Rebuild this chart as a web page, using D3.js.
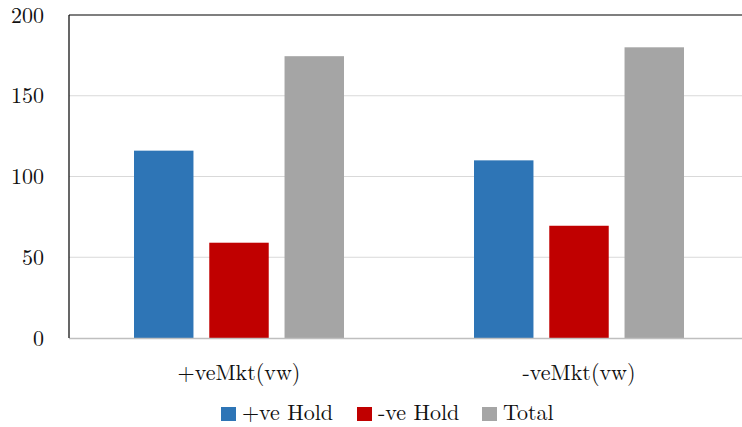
<!DOCTYPE html>
<html>
<head>
<meta charset="utf-8">
<script src="https://cdn.jsdelivr.net/npm/d3@7"></script>
<style>
  body { margin: 0; background: #fff; }
</style>
</head>
<body>
<svg id="chart" width="742" height="427"></svg>
<script>
/////// Data ///////
var groups = ["+veMkt(vw)", "-veMkt(vw)"];
var seriesNames = ["+ve Hold", "-ve Hold", "Total"];
var posHold = [116, 110];
var negHold = [59, 69.5];
var total = [174.5, 180];
var yTicks = [0, 50, 100, 150, 200];
var colors = ["#2E75B6", "#C00000", "#A5A5A5"];

var FONT = "'Latin Modern Roman', 'CMU Serif', 'DejaVu Serif', 'Liberation Serif', serif";

/////// Layout ///////
var svg = d3.select("#chart"),
margin = {top: 15, right: -7, bottom: 89, left: 69},
width = +svg.attr("width") - margin.left - margin.right,
height = +svg.attr("height") - margin.top - margin.bottom;

var g = svg.append("g")
.attr("transform", "translate(" + margin.left + "," + margin.top + ")");

var x0 = d3.scaleBand().domain(groups).range([0, width]).paddingInner(0).paddingOuter(0);
var x1 = d3.scaleBand().domain(seriesNames).range([65, x0.bandwidth() - 65]).paddingInner(0.21).paddingOuter(0);
var y = d3.scaleLinear().domain([0, 200]).range([height, 0]);

// gridlines
g.selectAll(".grid").data(yTicks.slice(1, -1)).enter().append("line")
.attr("x1", 0).attr("x2", width)
.attr("y1", function(d) { return y(d); }).attr("y2", function(d) { return y(d); })
.attr("stroke", "#d9d9d9").attr("stroke-width", 1);

// bars
var rows = groups.map(function(gname, i) {
    return {group: gname, values: [posHold[i], negHold[i], total[i]]};
});

var grp = g.selectAll(".grp").data(rows).enter().append("g")
.attr("transform", function(d) { return "translate(" + x0(d.group) + ",0)"; });

grp.selectAll("rect").data(function(d) {
    return d.values.map(function(v, j) { return {name: seriesNames[j], value: v, color: colors[j]}; });
}).enter().append("rect")
.attr("x", function(d) { return x1(d.name); })
.attr("width", x1.bandwidth())
.attr("y", function(d) { return y(d.value); })
.attr("height", function(d) { return height - y(d.value); })
.attr("fill", function(d) { return d.color; });

// axes lines
g.append("line").attr("x1", 0).attr("x2", width).attr("y1", height + 0.5).attr("y2", height + 0.5)
.attr("stroke", "#bfbfbf").attr("stroke-width", 1.5);
g.append("line").attr("x1", 0).attr("x2", width).attr("y1", 0).attr("y2", 0)
.attr("stroke", "#000").attr("stroke-width", 1.2);
g.append("line").attr("x1", 0).attr("x2", 0).attr("y1", 0).attr("y2", height)
.attr("stroke", "#000").attr("stroke-width", 1.2);

// y tick labels
g.selectAll(".ylab").data(yTicks).enter().append("text")
.attr("x", -25).attr("y", function(d) { return y(d); })
.attr("dy", "0.35em")
.attr("text-anchor", "end")
.attr("font-family", FONT)
.attr("font-size", "22px")
.attr("fill", "#111")
.text(function(d) { return d; });

// x labels
g.selectAll(".xlab").data(groups).enter().append("text")
.attr("x", function(d) { return x0(d) + x0.bandwidth() / 2; })
.attr("y", height + 42)
.attr("text-anchor", "middle")
.attr("font-family", FONT)
.attr("font-size", "22px")
.attr("fill", "#111")
.text(function(d) { return d; });

/////// Legend ///////
var legX = [221, 357, 482];
var leg = svg.selectAll(".leg").data(seriesNames).enter().append("g")
.attr("transform", function(d, i) { return "translate(" + legX[i] + ",407)"; });
leg.append("rect").attr("width", 15).attr("height", 14)
.attr("fill", function(d, i) { return colors[i]; });
leg.append("text").attr("x", 21).attr("y", 13)
.attr("font-family", FONT)
.attr("font-size", "22px")
.attr("fill", "#111")
.text(function(d) { return d; });
</script>
</body>
</html>
